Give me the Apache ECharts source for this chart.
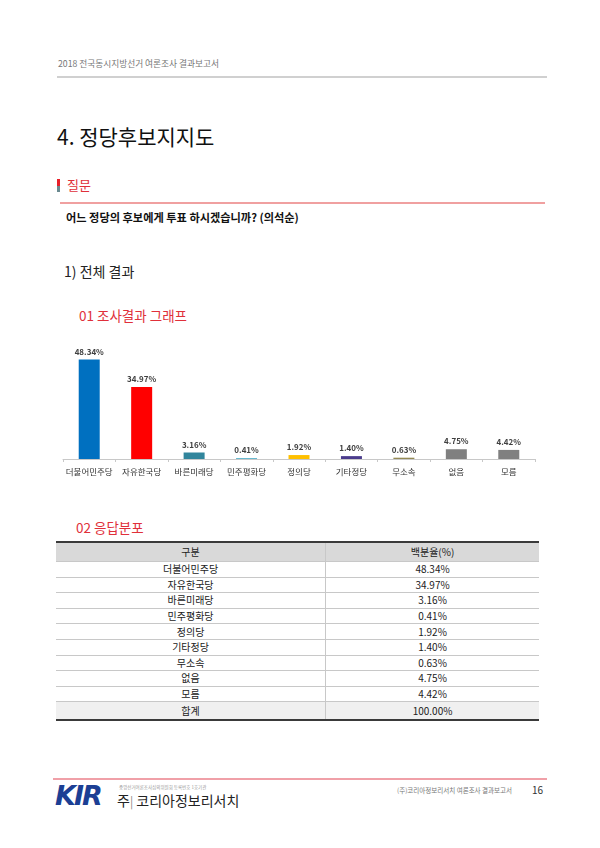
<!DOCTYPE html>
<html><head><meta charset="utf-8">
<script src="https://cdn.jsdelivr.net/npm/echarts@6/dist/echarts.min.js"></script>
<style>
html,body{margin:0;padding:0;background:#fff;}
body{width:600px;height:848px;position:relative;overflow:hidden;font-family:"Noto Sans CJK KR","Noto Sans",sans-serif;}
.a{position:absolute;white-space:nowrap;line-height:1;}
.hl{position:absolute;}
#chart{position:absolute;left:50px;top:330px;width:500px;height:160px;}
table{position:absolute;left:56px;top:541px;width:483px;border-collapse:collapse;font-size:10px;color:#222;}
td,th{text-align:center;padding:0;font-weight:normal;border-bottom:1px solid #c8c8c8;line-height:1;}
td+td,th+th{border-left:1px solid #c8c8c8;}
thead th{background:#d9d9d9;height:18px;border-top:2px solid #3a3a3a;}
tbody td{height:14.6px;}
tfoot td{background:#f0f0f0;height:16.5px;border-bottom:2px solid #3a3a3a;}
</style></head>
<body>
<div class="a" style="left:58px;top:60px;font-size:8.7px;color:#777;">2018 전국동시지방선거 여론조사 결과보고서</div>
<div class="hl" style="left:57px;top:76px;width:490px;height:2px;background:#d0d0d0;"></div>
<div class="a" style="left:57px;top:126px;font-size:21px;color:#111;">4. 정당후보지지도</div>
<div class="hl" style="left:57px;top:179px;width:3px;height:7px;background:#e8202a;"></div>
<div class="hl" style="left:57px;top:186px;width:3px;height:6px;background:#6a8a90;"></div>
<div class="a" style="left:67px;top:178px;font-size:13px;color:#e0303a;">질문</div>
<div class="hl" style="left:60px;top:202px;width:485px;height:1.5px;background:#f0a0a0;"></div>
<div class="a" style="left:66px;top:212px;font-size:11.2px;font-weight:bold;color:#111;">어느 정당의 후보에게 투표 하시겠습니까? (의석순)</div>
<div class="a" style="left:64px;top:264px;font-size:14px;color:#222;">1) 전체 결과</div>
<div class="a" style="left:79px;top:309px;font-size:13.5px;color:#e0303a;">01 조사결과 그래프</div>
<div id="chart"></div>
<div class="a" style="left:76px;top:521px;font-size:13.5px;color:#e0303a;">02 응답분포</div>
<table id="tbl"><thead><tr><th id="h1"></th><th id="h2"></th></tr></thead><tbody id="tb"></tbody><tfoot><tr><td id="f1"></td><td id="f2"></td></tr></tfoot></table>
<div class="hl" style="left:53px;top:778px;width:494px;height:1.5px;background:#f0a0a8;"></div>
<div class="a" style="left:55px;top:782px;font-size:27px;font-weight:bold;font-style:italic;color:#1c3f94;font-family:'DejaVu Sans',sans-serif;letter-spacing:-2px;">KIR</div>
<div class="a" style="left:119px;top:785px;font-size:4.5px;color:#999;">중앙선거여론조사심의위원회 등록번호 1호기관</div>
<div class="a" style="left:117px;top:793px;font-size:14px;color:#222;">주<span style="color:#888;font-size:12px;">|</span> 코리아정보리서치</div>
<div class="a" style="left:397px;top:787px;font-size:6.5px;color:#777;">(주)코리아정보리서치 여론조사 결과보고서</div>
<div class="a" style="left:532px;top:785px;font-size:10px;color:#333;">16</div>
<script>
var categories = ['더불어민주당','자유한국당','바른미래당','민주평화당','정의당','기타정당','무소속','없음','모름'];
var values = [48.34, 34.97, 3.16, 0.41, 1.92, 1.40, 0.63, 4.75, 4.42];
var barColors = ['#0070C0','#FF0000','#31859C','#4BACC6','#FFC000','#4B3C8C','#948A54','#808080','#808080'];
var tableHeader = ['구분','백분율(%)'];
var totalRow = ['합계','100.00%'];

document.getElementById('h1').textContent = tableHeader[0];
document.getElementById('h2').textContent = tableHeader[1];
document.getElementById('f1').textContent = totalRow[0];
document.getElementById('f2').textContent = totalRow[1];
var tb = document.getElementById('tb');
categories.forEach(function(c,i){
  var tr = document.createElement('tr');
  var a = document.createElement('td'); a.textContent = c;
  var b = document.createElement('td'); b.textContent = values[i].toFixed(2) + '%';
  tr.appendChild(a); tr.appendChild(b); tb.appendChild(tr);
});

var chart = echarts.init(document.getElementById('chart'));
chart.setOption({
  animation:false,
  grid:{left:13,right:15,top:5.6,bottom:31},
  xAxis:{type:'category',data:categories,
    axisLine:{lineStyle:{color:'#c8c8c8',width:1}},
    axisTick:{show:true,length:3,interval:0,lineStyle:{color:'#c8c8c8'}},
    axisLabel:{interval:0,color:'#333',fontSize:8.5,margin:9,fontFamily:'Noto Sans CJK KR'}},
  yAxis:{type:'value',min:0,max:60,show:false},
  series:[{type:'bar',barWidth:21,
    data:values.map(function(v,i){return {value:v,itemStyle:{color:barColors[i]}};}),
    label:{show:true,position:'top',distance:4,color:'#404040',fontSize:8,fontWeight:'bold',fontFamily:'Noto Sans CJK KR',
      formatter:function(p){return p.value.toFixed(2)+'%';}}}]
});
</script>
</body></html>
